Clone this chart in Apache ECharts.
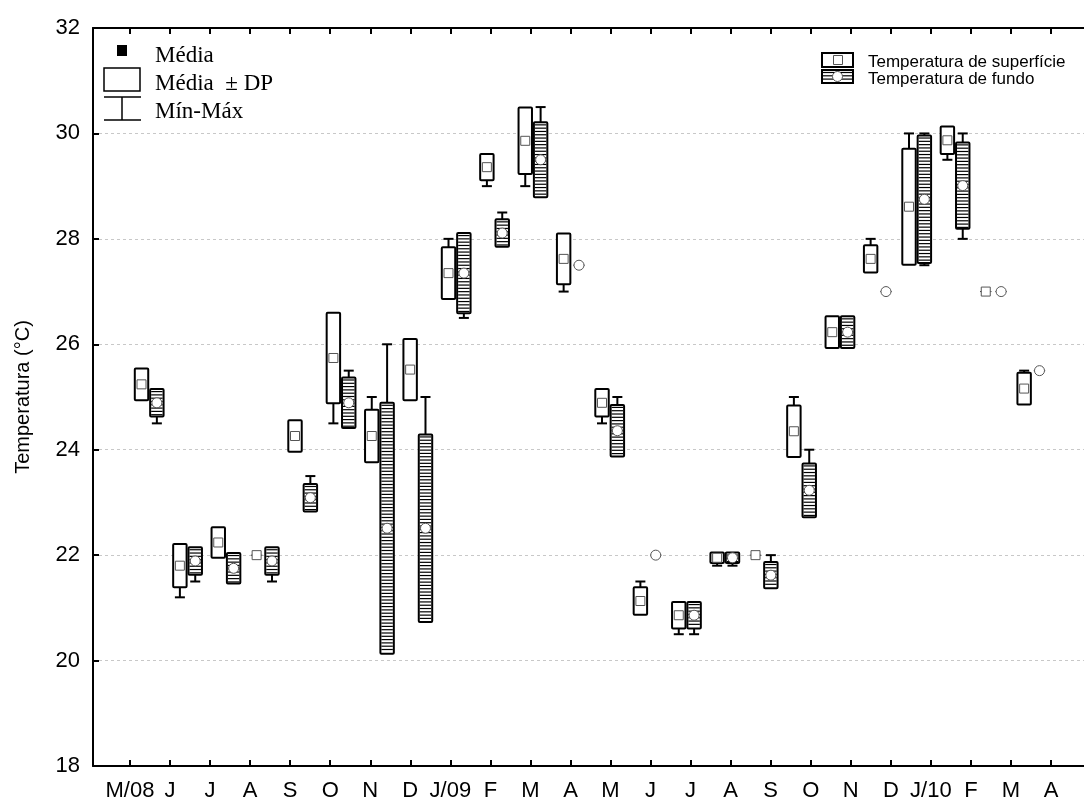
<!DOCTYPE html>
<html>
<head>
<meta charset="utf-8">
<script src="https://cdn.jsdelivr.net/npm/echarts@6/dist/echarts.min.js"></script>
<style>
  html, body { margin: 0; padding: 0; background: #fff; }
  #chart { width: 1084px; height: 802px; }
</style>
</head>
<body>
<div id="chart"></div>
<script>
// meses (mai/2008 - abr/2010)
const months = ["M/08", "J", "J", "A", "S", "O", "N", "D", "J/09", "F", "M", "A",
  "M", "J", "J", "A", "S", "O", "N", "D", "J/10", "F", "M", "A"];
const yTicks = [18, 20, 22, 24, 26, 28, 30, 32];

// temperatura de superficie
const supMean = [25.24, 21.80, 22.24, 22.00, 24.26, 25.74, 24.26, 25.52, 27.35, 29.36, 29.86, 27.62,
  24.89, 21.13, 20.86, 21.95, 22.00, 24.35, 26.23, 27.62, 28.61, 29.87, 27.00, 25.16];
const supSD = [0.30, 0.41, 0.29, 0, 0.30, 0.86, 0.50, 0.58, 0.49, 0.25, 0.63, 0.48,
  0.26, 0.26, 0.25, 0.10, 0, 0.49, 0.30, 0.26, 1.10, 0.26, 0, 0.30];
const supMin = [25.0, 21.2, 22.0, 22.0, 24.0, 24.5, 23.8, 25.0, 26.9, 29.0, 29.0, 27.0,
  24.5, 20.9, 20.5, 21.8, 22.0, 23.9, 26.0, 27.4, 27.5, 29.5, 27.0, 24.9];
const supMax = [25.5, 22.2, 22.5, 22.0, 24.5, 26.6, 25.0, 26.0, 28.0, 29.6, 30.5, 28.1,
  25.1, 21.5, 21.1, 22.05, 22.0, 25.0, 26.5, 28.0, 30.0, 30.1, 27.0, 25.5];

// temperatura de fundo
const funMean = [24.89, 21.89, 21.75, 21.89, 23.09, 24.89, 22.51, 22.51, 27.35, 28.11, 29.50, 27.50,
  24.36, 22.00, 20.86, 21.95, 21.62, 23.23, 26.23, 27.00, 28.75, 29.01, 27.00, 25.50];
const funSD = [0.26, 0.26, 0.29, 0.26, 0.26, 0.48, 2.38, 1.78, 0.76, 0.26, 0.71, 0,
  0.49, 0, 0.25, 0.10, 0.25, 0.51, 0.30, 0, 1.21, 0.82, 0, 0];
const funMin = [24.5, 21.5, 21.5, 21.5, 22.9, 24.4, 20.2, 20.8, 26.5, 27.9, 28.8, 27.5,
  23.9, 22.0, 20.5, 21.8, 21.4, 22.8, 26.0, 27.0, 27.5, 28.0, 27.0, 25.5];
const funMax = [25.1, 22.1, 22.0, 22.1, 23.5, 25.5, 26.0, 25.0, 28.1, 28.5, 30.5, 27.5,
  25.0, 22.0, 21.1, 22.05, 22.0, 24.0, 26.5, 27.0, 30.0, 30.0, 27.0, 25.5];

const SANS = "'Liberation Sans', Arial, sans-serif";
const SERIF = "'Liberation Serif', 'Times New Roman', serif";

function rows(mean, sd, mn, mx) {
  return mean.map((m, i) => [i, mn[i], m - sd[i], m, m + sd[i], mx[i]]);
}

function hatch(x0, x1, yTop, yBot) {
  const out = [];
  for (let y = yTop + 2.5; y < yBot - 1; y += 3.3) {
    out.push({ type: "line", shape: { x1: x0, y1: y, x2: x1, y2: y },
      style: { stroke: "#000", lineWidth: 1.2 } });
  }
  return out;
}

function makeRender(kind) {
  return function (params, api) {
    const i = api.value(0);
    const band = api.size([1, 0])[0];
    const cx = api.coord([i, 20])[0] + (kind === "sup" ? -0.2 : 0.2) * band;
    const half = 0.175 * band;
    const vMin = api.value(1), vLow = api.value(2), vMean = api.value(3),
      vHigh = api.value(4), vMax = api.value(5);
    const y = (v) => api.coord([i, v])[1];
    const yMin = y(vMin), yLow = y(vLow), yMean = y(vMean), yHigh = y(vHigh), yMax = y(vMax);
    const kids = [];
    const ln = (x1, y1, x2, y2, w) => ({ type: "line", shape: { x1, y1, x2, y2 },
      style: { stroke: "#000", lineWidth: w } });

    if (vMax > vHigh + 0.01) {
      kids.push(ln(cx, yMax, cx, yHigh, 2));
      kids.push(ln(cx - 5, yMax, cx + 5, yMax, 2));
    }
    if (vMin < vLow - 0.01) {
      kids.push(ln(cx, yMin, cx, yLow, 2));
      kids.push(ln(cx - 5, yMin, cx + 5, yMin, 2));
    }
    if (vHigh - vLow > 0.001) {
      kids.push({ type: "rect", shape: { x: cx - half, y: yHigh, width: 2 * half, height: yLow - yHigh, r: 1 },
        style: { fill: "#fff", stroke: "#000", lineWidth: 2 } });
      if (kind === "fun") {
        kids.push(...hatch(cx - half + 1, cx + half - 1, yHigh, yLow));
      }
    } else {
      kids.push({ type: "line", shape: { x1: cx - half + 1, y1: yMean, x2: cx + half - 1, y2: yMean },
        style: { stroke: "#333", lineWidth: 1 } });
    }
    if (kind === "sup") {
      kids.push({ type: "rect", shape: { x: cx - 4.5, y: yMean - 4.5, width: 9, height: 9 },
        style: { fill: "#fff", stroke: "#555", lineWidth: 1 } });
    } else {
      kids.push({ type: "circle", shape: { cx: cx, cy: yMean, r: 5 },
        style: { fill: "#fff", stroke: "#555", lineWidth: 1 } });
    }
    return { type: "group", children: kids };
  };
}

const chart = echarts.init(document.getElementById("chart"));

const legendFun = [
  { type: "rect", shape: { x: 822, y: 70, width: 31, height: 13 },
    style: { fill: "#fff", stroke: "#000", lineWidth: 2 } },
  ...hatch(823, 852, 70, 83),
  { type: "circle", shape: { cx: 837.5, cy: 76.5, r: 5 },
    style: { fill: "#fff", stroke: "#555", lineWidth: 1 } }
];

const frameLine = { show: true, lineStyle: { color: "#000", width: 2 } };

chart.setOption({
  animation: false,
  grid: [
    { left: 93, right: -6, top: 28, bottom: 36 },
    { left: 130, right: 33, top: 28, bottom: 36 }
  ],
  xAxis: [
    { gridIndex: 0, type: "value", min: 0, max: 1, position: "bottom", axisLine: frameLine,
      axisTick: { show: false }, axisLabel: { show: false }, splitLine: { show: false } },
    { gridIndex: 0, type: "value", min: 0, max: 1, position: "top", axisLine: frameLine,
      axisTick: { show: false }, axisLabel: { show: false }, splitLine: { show: false } },
    { gridIndex: 1, type: "category", data: months, boundaryGap: false, position: "bottom",
      axisLine: { show: false },
      axisTick: { show: true, inside: true, length: 6, lineStyle: { color: "#000", width: 2 } },
      axisLabel: { interval: 0, color: "#000", fontSize: 22, fontFamily: SANS, margin: 14 },
      splitLine: { show: false } },
    { gridIndex: 1, type: "category", data: months, boundaryGap: false, position: "top",
      axisLine: { show: false },
      axisTick: { show: true, inside: true, length: 6, lineStyle: { color: "#000", width: 2 } },
      axisLabel: { show: false }, splitLine: { show: false } },
    { gridIndex: 1, type: "category", data: months, boundaryGap: true, show: false }
  ],
  yAxis: [
    { gridIndex: 0, type: "value", min: yTicks[0], max: yTicks[yTicks.length - 1], interval: 2,
      name: "Temperatura (°C)", nameLocation: "middle", nameRotate: 90, nameGap: 60,
      nameTextStyle: { color: "#000", fontSize: 20, fontFamily: SANS },
      axisLine: frameLine,
      axisTick: { show: true, inside: true, length: 6, lineStyle: { color: "#000", width: 2 } },
      axisLabel: { color: "#000", fontSize: 22, fontFamily: SANS, margin: 13 },
      splitLine: { show: true, lineStyle: { color: "#c8c8c8", type: [3, 3], width: 1 } } },
    { gridIndex: 1, type: "value", min: yTicks[0], max: yTicks[yTicks.length - 1], show: false,
      splitLine: { show: false } }
  ],
  series: [
    { name: "Temperatura de superfície", type: "custom", xAxisIndex: 4, yAxisIndex: 1,
      renderItem: makeRender("sup"), data: rows(supMean, supSD, supMin, supMax),
      encode: { x: 0, y: [1, 2, 3, 4, 5] }, z: 5 },
    { name: "Temperatura de fundo", type: "custom", xAxisIndex: 4, yAxisIndex: 1,
      renderItem: makeRender("fun"), data: rows(funMean, funSD, funMin, funMax),
      encode: { x: 0, y: [1, 2, 3, 4, 5] }, z: 5 }
  ],
  graphic: [
    // legenda da esquerda
    { type: "rect", shape: { x: 117, y: 45, width: 10, height: 11 }, style: { fill: "#000" } },
    { type: "text", x: 155, y: 56, style: { text: "Média", font: "23px " + SERIF, fill: "#000",
      verticalAlign: "middle" } },
    { type: "rect", shape: { x: 104, y: 68, width: 36, height: 23 },
      style: { fill: "#fff", stroke: "#000", lineWidth: 1.5 } },
    { type: "text", x: 155, y: 84, style: { text: "Média  ± DP", font: "23px " + SERIF, fill: "#000",
      verticalAlign: "middle" } },
    { type: "line", shape: { x1: 104, y1: 97, x2: 141, y2: 97 }, style: { stroke: "#000", lineWidth: 1.5 } },
    { type: "line", shape: { x1: 122, y1: 97, x2: 122, y2: 120 }, style: { stroke: "#000", lineWidth: 1.5 } },
    { type: "line", shape: { x1: 104, y1: 120, x2: 141, y2: 120 }, style: { stroke: "#000", lineWidth: 1.5 } },
    { type: "text", x: 155, y: 112, style: { text: "Mín-Máx", font: "23px " + SERIF, fill: "#000",
      verticalAlign: "middle" } },
    // legenda da direita
    { type: "rect", shape: { x: 822, y: 53, width: 31, height: 14 },
      style: { fill: "#fff", stroke: "#000", lineWidth: 2 } },
    { type: "rect", shape: { x: 833.5, y: 55.5, width: 9, height: 9 },
      style: { fill: "#fff", stroke: "#555", lineWidth: 1 } },
    { type: "text", x: 868, y: 62, style: { text: "Temperatura de superfície", font: "17px " + SANS,
      fill: "#000", verticalAlign: "middle" } },
    ...legendFun,
    { type: "text", x: 868, y: 79, style: { text: "Temperatura de fundo", font: "17px " + SANS,
      fill: "#000", verticalAlign: "middle" } }
  ]
});
</script>
</body>
</html>
